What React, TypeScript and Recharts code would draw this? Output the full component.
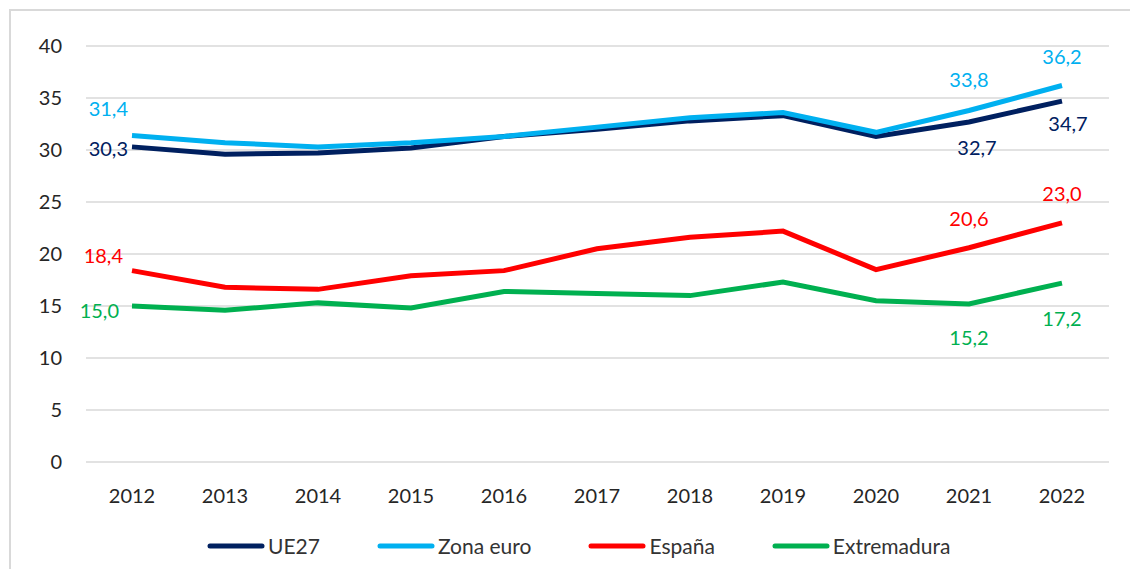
import React from 'react';
import { LineChart, Line, XAxis, YAxis, CartesianGrid, LabelList } from 'recharts';

const years = ['2012', '2013', '2014', '2015', '2016', '2017', '2018', '2019', '2020', '2021', '2022'];
const ue27 = [30.3, 29.6, 29.7, 30.2, 31.3, 32.0, 32.8, 33.3, 31.3, 32.7, 34.7];
const zonaEuro = [31.4, 30.7, 30.3, 30.7, 31.3, 32.2, 33.1, 33.6, 31.7, 33.8, 36.2];
const espana = [18.4, 16.8, 16.6, 17.9, 18.4, 20.5, 21.6, 22.2, 18.5, 20.6, 23.0];
const extremadura = [15.0, 14.6, 15.3, 14.8, 16.4, 16.2, 16.0, 17.3, 15.5, 15.2, 17.2];
const yTicks = [0, 5, 10, 15, 20, 25, 30, 35, 40];

const data = years.map((year, i) => ({
  year,
  ue27: ue27[i],
  zona: zonaEuro[i],
  espana: espana[i],
  extremadura: extremadura[i],
}));

const FONT = 'Lato, "Open Sans", sans-serif';

// label placement per series: [index] -> [dx, dy, anchor]
type Place = [number, number, 'start' | 'middle' | 'end'];
const placements: Record<string, Record<number, Place>> = {
  ue27: { 0: [-4, 1, 'end'], 9: [8, 25, 'middle'], 10: [6, 22, 'middle'] },
  zona: { 0: [-4, -27, 'end'], 9: [0, -31, 'middle'], 10: [0, -30, 'middle'] },
  espana: { 0: [-9, -16, 'end'], 9: [0, -30, 'middle'], 10: [0, -30, 'middle'] },
  extremadura: { 0: [-13, 4, 'end'], 9: [0, 33, 'middle'], 10: [0, 35, 'middle'] },
};

const makeLabel = (key: string, color: string) => (props: any) => {
  const { x, y, value, index } = props;
  const p = placements[key][index];
  if (!p) return null;
  return (
    <text
      x={x + p[0]}
      y={y + p[1]}
      textAnchor={p[2]}
      dominantBaseline="central"
      fill={color}
      fontSize={20}
      fontFamily={FONT}
    >
      {Number(value).toFixed(1).replace('.', ',')}
    </text>
  );
};

const series = [
  { key: 'ue27', name: 'UE27', color: '#002060' },
  { key: 'zona', name: 'Zona euro', color: '#00B0F0' },
  { key: 'espana', name: 'España', color: '#FF0000' },
  { key: 'extremadura', name: 'Extremadura', color: '#00B050' },
];

const LegendRow = () => (
  <div style={{ position: 'absolute', left: 207, top: 533, display: 'flex', alignItems: 'center', gap: 57, fontFamily: FONT, fontSize: 21, color: '#333' }}>
    {series.map((s) => (
      <div key={s.key} style={{ display: 'flex', alignItems: 'center' }}>
        <svg width={58} height={8}>
          <line x1={3} y1={4} x2={55} y2={4} stroke={s.color} strokeWidth={5} strokeLinecap="round" />
        </svg>
        <span style={{ marginLeft: 3 }}>{s.name}</span>
      </div>
    ))}
  </div>
);

export default function App() {
  return (
    <div style={{ position: 'absolute', left: 0, top: 0, width: 1130, height: 569, background: '#fff', overflow: 'hidden' }}>
      <div style={{ position: 'absolute', left: 9, top: 9, width: 1200, height: 600, borderTop: '2px solid #d9d9d9', borderLeft: '2px solid #d9d9d9' }} />
      <div style={{ position: 'absolute', left: 0, top: 0 }}>
        <LineChart width={1130} height={569} data={data} margin={{ top: 46, right: 21, bottom: 77, left: 0 }}>
          <CartesianGrid vertical={false} stroke="#d9d9d9" strokeWidth={1.5} />
          <XAxis
            dataKey="year"
            height={30}
            axisLine={false}
            tickLine={false}
            tickMargin={21}
            padding={{ left: 46, right: 47 }}
            tick={{ fill: '#262626', fontSize: 20, fontFamily: FONT }}
          />
          <YAxis
            width={86}
            domain={[0, 40]}
            ticks={yTicks}
            axisLine={false}
            tickLine={false}
            tickMargin={18}
            tick={{ fill: '#262626', fontSize: 20, fontFamily: FONT }}
          />
          {series.map((s) => (
            <Line
              key={s.key}
              type="linear"
              dataKey={s.key}
              name={s.name}
              stroke={s.color}
              strokeWidth={5}
              dot={false}
              activeDot={false}
              isAnimationActive={false}
            >
              <LabelList dataKey={s.key} content={makeLabel(s.key, s.color)} />
            </Line>
          ))}
        </LineChart>
      </div>
      <LegendRow />
    </div>
  );
}
